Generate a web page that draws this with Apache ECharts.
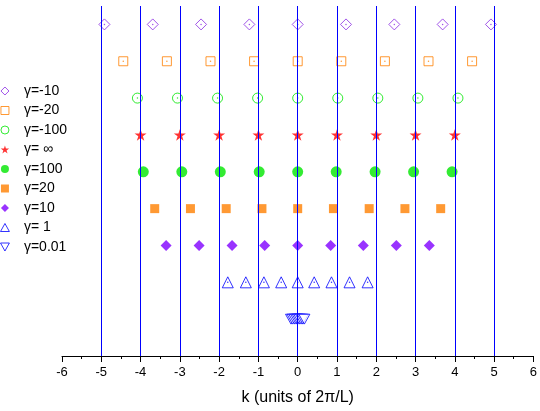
<!DOCTYPE html>
<html><head><meta charset="utf-8">
<script src="https://cdn.jsdelivr.net/npm/echarts@6/dist/echarts.min.js"></script>
<style>html,body{margin:0;padding:0;background:#fff}#c{width:540px;height:411px}</style>
</head><body><div id="c"></div>
<script>
// Row level (vertical position) of each series, top to bottom
var seriesNames = ['γ=-10','γ=-20','γ=-100','γ= ∞','γ=100','γ=20','γ=10','γ= 1','γ=0.01'];
var rowLevel = [9, 8, 7, 6, 5, 4, 3, 2, 1];
// quasi-momenta k (units of 2π/L)
var kGammaNeg10  = [-4.92, -3.69, -2.46, -1.23, 0, 1.23, 2.46, 3.69, 4.92];
var kGammaNeg20  = [-4.44, -3.33, -2.22, -1.11, 0, 1.11, 2.22, 3.33, 4.44];
var kGammaNeg100 = [-4.08, -3.06, -2.04, -1.02, 0, 1.02, 2.04, 3.06, 4.08];
var kGammaInf    = [-4, -3, -2, -1, 0, 1, 2, 3, 4];
var kGamma100    = [-3.93, -2.95, -1.97, -0.98, 0, 0.98, 1.97, 2.95, 3.93];
var kGamma20     = [-3.64, -2.73, -1.82, -0.91, 0, 0.91, 1.82, 2.73, 3.64];
var kGamma10     = [-3.35, -2.51, -1.67, -0.84, 0, 0.84, 1.67, 2.51, 3.35];
var kGamma1      = [-1.78, -1.32, -0.86, -0.42, 0, 0.42, 0.86, 1.32, 1.78];
var kGamma001    = [-0.17, -0.13, -0.085, -0.04, 0, 0.04, 0.085, 0.13, 0.17];
// vertical reference lines at integer k
var refLines = [-5, -4, -3, -2, -1, 0, 1, 2, 3, 4, 5];
var xTicks = [-6, 6, 1];

var allK = [kGammaNeg10, kGammaNeg20, kGammaNeg100, kGammaInf, kGamma100, kGamma20, kGamma10, kGamma1, kGamma001];
var STAR = 'path://M50 0 L61.17 34.63 L97.55 34.55 L68.07 55.87 L79.39 90.45 L50 69 L20.61 90.45 L31.93 55.87 L2.45 34.55 L38.83 34.63 Z';
var INVTRI = 'path://M0 0 L100 0 L50 90 Z';
var TRI = 'path://M50 0 L100 90 L0 90 Z';
var DIAM = 'path://M50 0 L100 50 L50 100 L0 50 Z';
var SQR = 'path://M0 0 L100 0 L100 100 L0 100 Z';
var styles = [
  {symbol:'diamond', icon:DIAM, size:11, color:'#8a2be2', open:true},
  {symbol:'rect', icon:SQR, size:9, color:'#ff8000', open:true},
  {symbol:'circle', icon:'circle', size:10, color:'#00e600', open:true},
  {symbol:STAR, icon:STAR, size:12, color:'#ff0000', open:false},
  {symbol:'circle', icon:'circle', size:11, color:'#00e600', open:false},
  {symbol:'rect', icon:SQR, size:9, color:'#ff8000', open:false},
  {symbol:'diamond', icon:DIAM, size:11, color:'#7f00ff', open:false},
  {symbol:'triangle', icon:TRI, size:11, color:'#0000ff', open:true},
  {symbol:INVTRI, icon:INVTRI, size:11, color:'#0000ff', open:true}
];

function pts(ks, lvl){ return ks.map(function(k){ return [k, lvl]; }); }

var series = [];
styles.forEach(function(s, i){
  series.push({
    name: seriesNames[i], type:'scatter', symbol:s.symbol, symbolSize:s.size,
    symbolKeepAspect:true,
    data: pts(allK[i], rowLevel[i]),
    itemStyle: s.open ? {color:'#fff', borderColor:s.color, borderWidth:1} : {color:s.color},
    z: 3
  });
  if (s.open && i < 8) {
    series.push({ type:'scatter', symbol:'circle', symbolSize:1.5, data: pts(allK[i], rowLevel[i]),
      itemStyle:{color:s.color}, z:4, silent:true });
  }
});
series.push({
  type:'scatter', data:[], z:1,
  markLine:{ silent:true, symbol:['none','none'], label:{show:false},
    lineStyle:{color:'#0000ff', width:1, type:'solid'},
    data: refLines.map(function(v){ return {xAxis:v}; }) }
});

var FONT = 'Liberation Sans, Arial, sans-serif';
var chart = echarts.init(document.getElementById('c'));
chart.setOption({
  animation:false,
  backgroundColor:'#fff',
  grid:{left:62, right:4, top:6, bottom:54},
  legend:{
    data: seriesNames.map(function(n, i){ return {name:n, icon:styles[i].icon, itemStyle:{borderWidth:1}}; }),
    orient:'vertical', left:0, top:84, padding:0,
    itemWidth:28, itemHeight:8, itemGap:5.5, symbolKeepAspect:true,
    textStyle:{fontFamily:FONT, fontSize:14, color:'#000', lineHeight:14}
  },
  xAxis:{
    type:'value', min:xTicks[0], max:xTicks[1], interval:xTicks[2],
    axisLine:{lineStyle:{color:'#000', width:1}},
    axisTick:{show:true, length:6, lineStyle:{color:'#000'}},
    minorTick:{show:true, splitNumber:2, length:3, lineStyle:{color:'#000'}},
    splitLine:{show:false},
    axisLabel:{fontFamily:FONT, fontSize:13, color:'#000', margin:10},
    name:'k (units of 2π/L)', nameLocation:'middle', nameGap:34,
    nameTextStyle:{fontFamily:FONT, fontSize:16, color:'#000'}
  },
  yAxis:{type:'value', min:0, max:9.5, show:false},
  series: series
});
</script></body></html>
